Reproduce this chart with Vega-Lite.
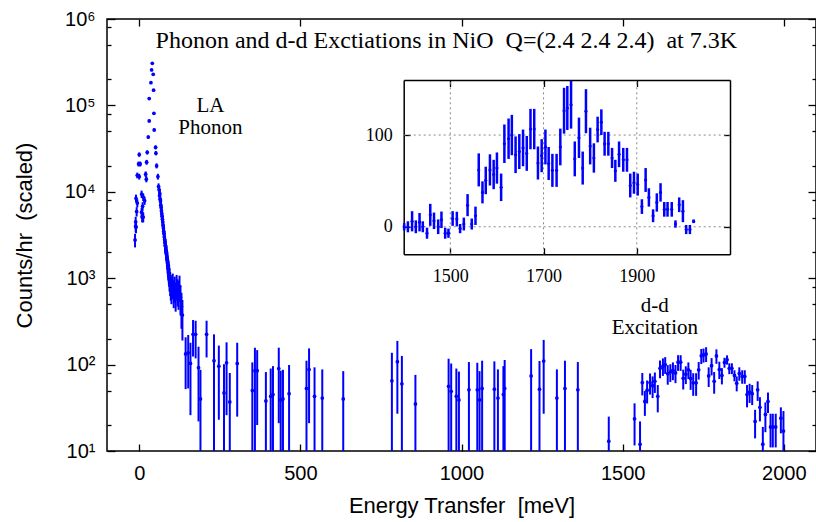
{
  "$schema": "https://vega.github.io/schema/vega-lite/v6.json",
  "width": 709,
  "height": 432,
  "autosize": {"type": "none"},
  "padding": {"left": 107, "top": 19, "right": 0, "bottom": 71},
  "background": "white",
  "config": {
    "view": {"stroke": "black", "strokeWidth": 1.5},
    "axis": {"labelFont": "Liberation Sans", "titleFont": "Liberation Sans", "labelColor": "black", "titleColor": "black", "tickColor": "black", "domainColor": "black", "titleFontWeight": "normal", "grid": false, "tickWidth": 1.3}
  },
  "datasets": {
    "main": [
      {"E": -13, "v": 2770, "lo": 2270, "hi": 3270},
      {"E": -11, "v": 4000, "lo": 3400, "hi": 4600},
      {"E": -11, "v": 4500, "lo": 3870, "hi": 5130},
      {"E": -10, "v": 3900, "lo": 3310, "hi": 4490},
      {"E": -10, "v": 8400, "lo": 7530, "hi": 9270},
      {"E": -8, "v": 5900, "lo": 5170, "hi": 6630},
      {"E": -6, "v": 7400, "lo": 6590, "hi": 8210},
      {"E": -6, "v": 15500, "lo": 14320, "hi": 16680},
      {"E": -2, "v": 21000, "lo": 19630, "hi": 22370},
      {"E": 0, "v": 27000, "lo": 25440, "hi": 28560},
      {"E": 0, "v": 15000, "lo": 13840, "hi": 16160},
      {"E": 3, "v": 21000, "lo": 19630, "hi": 22370},
      {"E": 7.4, "v": 9400, "lo": 8480, "hi": 10320},
      {"E": 7.4, "v": 5800, "lo": 5080, "hi": 6520},
      {"E": 9, "v": 5100, "lo": 4420, "hi": 5780},
      {"E": 10.5, "v": 6800, "lo": 6020, "hi": 7580},
      {"E": 12.4, "v": 8700, "lo": 7820, "hi": 9580},
      {"E": 12.4, "v": 5100, "lo": 4420, "hi": 5780},
      {"E": 16.7, "v": 7900, "lo": 7060, "hi": 8740},
      {"E": 20, "v": 16000, "lo": 14800, "hi": 17200},
      {"E": 22, "v": 14000, "lo": 12880, "hi": 15120},
      {"E": 23, "v": 22000, "lo": 20590, "hi": 23410},
      {"E": 24.8, "v": 28600, "lo": 27000, "hi": 30200},
      {"E": 28, "v": 43000, "lo": 41030, "hi": 44970},
      {"E": 31, "v": 66000, "lo": 63560, "hi": 68440},
      {"E": 31, "v": 120000, "lo": 116700, "hi": 123300},
      {"E": 36.3, "v": 183000, "lo": 178900, "hi": 187100},
      {"E": 38.4, "v": 257000, "lo": 252200, "hi": 261800},
      {"E": 40.6, "v": 307000, "lo": 301700, "hi": 312300},
      {"E": 43.4, "v": 229000, "lo": 224500, "hi": 233500},
      {"E": 44.6, "v": 150000, "lo": 146300, "hi": 153700},
      {"E": 45.6, "v": 81000, "lo": 78300, "hi": 83700},
      {"E": 46.5, "v": 52000, "lo": 49840, "hi": 54160},
      {"E": 50.8, "v": 32700, "lo": 30980, "hi": 34420},
      {"E": 51.8, "v": 28000, "lo": 26410, "hi": 29590},
      {"E": 54, "v": 20000, "lo": 18660, "hi": 21340},
      {"E": 58, "v": 15000, "lo": 13840, "hi": 16160},
      {"E": 60, "v": 11500, "lo": 10480, "hi": 12520},
      {"E": 62, "v": 10500, "lo": 9530, "hi": 11470},
      {"E": 63, "v": 9000, "lo": 8100, "hi": 9900},
      {"E": 64, "v": 9500, "lo": 8580, "hi": 10420},
      {"E": 65, "v": 8200, "lo": 7340, "hi": 9060},
      {"E": 66, "v": 7800, "lo": 6960, "hi": 8640},
      {"E": 67, "v": 7000, "lo": 6210, "hi": 7790},
      {"E": 68, "v": 6600, "lo": 5830, "hi": 7370},
      {"E": 69, "v": 6000, "lo": 5270, "hi": 6730},
      {"E": 70, "v": 5600, "lo": 4890, "hi": 6310},
      {"E": 71, "v": 5200, "lo": 4520, "hi": 5880},
      {"E": 72, "v": 4800, "lo": 4140, "hi": 5460},
      {"E": 73, "v": 4500, "lo": 3860, "hi": 5140},
      {"E": 74, "v": 4100, "lo": 3490, "hi": 4710},
      {"E": 75, "v": 3800, "lo": 3210, "hi": 4390},
      {"E": 76, "v": 3500, "lo": 2940, "hi": 4060},
      {"E": 77, "v": 3300, "lo": 2760, "hi": 3840},
      {"E": 78, "v": 3000, "lo": 2480, "hi": 3520},
      {"E": 79, "v": 2800, "lo": 2300, "hi": 3300},
      {"E": 80, "v": 2600, "lo": 2120, "hi": 3080},
      {"E": 81, "v": 2400, "lo": 1930, "hi": 2870},
      {"E": 82, "v": 2300, "lo": 1840, "hi": 2760},
      {"E": 83, "v": 2100, "lo": 1670, "hi": 2530},
      {"E": 84, "v": 2000, "lo": 1580, "hi": 2420},
      {"E": 85, "v": 1900, "lo": 1490, "hi": 2310},
      {"E": 86, "v": 1750, "lo": 1350, "hi": 2150},
      {"E": 87, "v": 1650, "lo": 1260, "hi": 2040},
      {"E": 88, "v": 1500, "lo": 1130, "hi": 1870},
      {"E": 89, "v": 1400, "lo": 1040, "hi": 1760},
      {"E": 90, "v": 1300, "lo": 960, "hi": 1640},
      {"E": 91, "v": 1250, "lo": 910, "hi": 1590},
      {"E": 92, "v": 1150, "lo": 830, "hi": 1470},
      {"E": 93, "v": 1100, "lo": 790, "hi": 1410},
      {"E": 94, "v": 1000, "lo": 700, "hi": 1300},
      {"E": 96, "v": 900, "lo": 620, "hi": 1180},
      {"E": 98, "v": 820, "lo": 550, "hi": 1090},
      {"E": 100, "v": 760, "lo": 500, "hi": 1020},
      {"E": 104, "v": 850, "lo": 570, "hi": 1130},
      {"E": 107, "v": 700, "lo": 450, "hi": 950},
      {"E": 110, "v": 780, "lo": 520, "hi": 1040},
      {"E": 113, "v": 650, "lo": 410, "hi": 890},
      {"E": 116, "v": 820, "lo": 550, "hi": 1090},
      {"E": 119, "v": 720, "lo": 470, "hi": 970},
      {"E": 122, "v": 680, "lo": 430, "hi": 930},
      {"E": 125, "v": 800, "lo": 530, "hi": 1070},
      {"E": 128, "v": 600, "lo": 370, "hi": 830},
      {"E": 131, "v": 470, "lo": 260, "hi": 680},
      {"E": 134, "v": 375, "lo": 190, "hi": 560},
      {"E": 144, "v": 133, "lo": 52, "hi": 207},
      {"E": 152, "v": 137, "lo": 53, "hi": 220},
      {"E": 159, "v": 103, "lo": 26, "hi": 179},
      {"E": 167, "v": 224, "lo": 124, "hi": 328},
      {"E": 175, "v": 224, "lo": 118, "hi": 322},
      {"E": 184, "v": 92, "lo": 22, "hi": 161},
      {"E": 190, "v": 40, "lo": 3, "hi": 87},
      {"E": 209, "v": 224, "lo": 121, "hi": 322},
      {"E": 232, "v": 111, "lo": 3, "hi": 224},
      {"E": 247, "v": 96, "lo": 23, "hi": 166},
      {"E": 263, "v": 47, "lo": 3, "hi": 101},
      {"E": 271, "v": 105, "lo": 26, "hi": 181},
      {"E": 281, "v": 37, "lo": 3, "hi": 80},
      {"E": 304, "v": 103, "lo": 25, "hi": 179},
      {"E": 351, "v": 50, "lo": 3, "hi": 106},
      {"E": 359, "v": 85, "lo": 3, "hi": 157},
      {"E": 366, "v": 85, "lo": 20, "hi": 147},
      {"E": 393, "v": 38, "lo": 3, "hi": 82},
      {"E": 408, "v": 43, "lo": 3, "hi": 90},
      {"E": 415, "v": 45, "lo": 3, "hi": 96},
      {"E": 433, "v": 90, "lo": 21, "hi": 157},
      {"E": 439, "v": 39, "lo": 3, "hi": 85},
      {"E": 446, "v": 40, "lo": 3, "hi": 87},
      {"E": 465, "v": 46, "lo": 3, "hi": 99},
      {"E": 519, "v": 53, "lo": 3, "hi": 111},
      {"E": 527, "v": 88, "lo": 21, "hi": 154},
      {"E": 544, "v": 43, "lo": 3, "hi": 93},
      {"E": 568, "v": 41, "lo": 3, "hi": 88},
      {"E": 633, "v": 40, "lo": 3, "hi": 84},
      {"E": 784, "v": 65, "lo": 3, "hi": 137},
      {"E": 801, "v": 108, "lo": 27, "hi": 188},
      {"E": 815, "v": 60, "lo": 3, "hi": 126},
      {"E": 857, "v": 35, "lo": 3, "hi": 76},
      {"E": 960, "v": 56, "lo": 3, "hi": 117},
      {"E": 968, "v": 49, "lo": 3, "hi": 103},
      {"E": 984, "v": 43, "lo": 3, "hi": 90},
      {"E": 992, "v": 39, "lo": 3, "hi": 83},
      {"E": 1023, "v": 51, "lo": 3, "hi": 107},
      {"E": 1049, "v": 51, "lo": 3, "hi": 105},
      {"E": 1056, "v": 39, "lo": 3, "hi": 84},
      {"E": 1064, "v": 53, "lo": 3, "hi": 111},
      {"E": 1102, "v": 52, "lo": 3, "hi": 109},
      {"E": 1113, "v": 41, "lo": 3, "hi": 88},
      {"E": 1130, "v": 45, "lo": 3, "hi": 96},
      {"E": 1134, "v": 53, "lo": 3, "hi": 113},
      {"E": 1216, "v": 74, "lo": 3, "hi": 151},
      {"E": 1242, "v": 52, "lo": 3, "hi": 110},
      {"E": 1255, "v": 110, "lo": 27, "hi": 193},
      {"E": 1296, "v": 41, "lo": 3, "hi": 88},
      {"E": 1321, "v": 53, "lo": 3, "hi": 111},
      {"E": 1361, "v": 51, "lo": 3, "hi": 107},
      {"E": 1457, "v": 13, "lo": 1, "hi": 25},
      {"E": 1537, "v": 23.6, "lo": 11.6, "hi": 35.6},
      {"E": 1554, "v": 12, "lo": 2, "hi": 22},
      {"E": 1561, "v": 62, "lo": 44, "hi": 80},
      {"E": 1569, "v": 37.5, "lo": 25.5, "hi": 49.5},
      {"E": 1576, "v": 50.5, "lo": 35.5, "hi": 65.5},
      {"E": 1585, "v": 62, "lo": 45, "hi": 79},
      {"E": 1593, "v": 57, "lo": 41, "hi": 73},
      {"E": 1600, "v": 64, "lo": 47, "hi": 81},
      {"E": 1609, "v": 43, "lo": 28, "hi": 58},
      {"E": 1616, "v": 90.5, "lo": 69.5, "hi": 111.5},
      {"E": 1625, "v": 96, "lo": 74, "hi": 118},
      {"E": 1632, "v": 100, "lo": 78, "hi": 122},
      {"E": 1640, "v": 78.5, "lo": 58.5, "hi": 98.5},
      {"E": 1648, "v": 82, "lo": 63, "hi": 101},
      {"E": 1656, "v": 86, "lo": 66, "hi": 106},
      {"E": 1664, "v": 80, "lo": 61, "hi": 99},
      {"E": 1672, "v": 106.5, "lo": 84.5, "hi": 128.5},
      {"E": 1680, "v": 106.5, "lo": 84.5, "hi": 128.5},
      {"E": 1688, "v": 69.5, "lo": 51.5, "hi": 87.5},
      {"E": 1696, "v": 77.5, "lo": 59.5, "hi": 95.5},
      {"E": 1704, "v": 87, "lo": 68, "hi": 106},
      {"E": 1711, "v": 69, "lo": 51, "hi": 87},
      {"E": 1719, "v": 61.5, "lo": 43.5, "hi": 79.5},
      {"E": 1728, "v": 61.5, "lo": 43.5, "hi": 79.5},
      {"E": 1736, "v": 87, "lo": 67, "hi": 107},
      {"E": 1744, "v": 126.5, "lo": 101.5, "hi": 151.5},
      {"E": 1751, "v": 129.5, "lo": 105.5, "hi": 153.5},
      {"E": 1759, "v": 133, "lo": 107, "hi": 159},
      {"E": 1767, "v": 74, "lo": 55, "hi": 93},
      {"E": 1776, "v": 97, "lo": 75, "hi": 119},
      {"E": 1784, "v": 64, "lo": 46, "hi": 82},
      {"E": 1791, "v": 126, "lo": 102, "hi": 150},
      {"E": 1800, "v": 88, "lo": 68, "hi": 108},
      {"E": 1808, "v": 75, "lo": 59, "hi": 91},
      {"E": 1816, "v": 106, "lo": 92, "hi": 120},
      {"E": 1824, "v": 114, "lo": 100, "hi": 128},
      {"E": 1831, "v": 90.5, "lo": 77.5, "hi": 103.5},
      {"E": 1839, "v": 90.5, "lo": 77.5, "hi": 103.5},
      {"E": 1847, "v": 75, "lo": 64, "hi": 86},
      {"E": 1854, "v": 61, "lo": 49, "hi": 73},
      {"E": 1862, "v": 79, "lo": 65, "hi": 93},
      {"E": 1871, "v": 73, "lo": 60, "hi": 86},
      {"E": 1879, "v": 73, "lo": 60, "hi": 86},
      {"E": 1886, "v": 45, "lo": 32, "hi": 58},
      {"E": 1894, "v": 48, "lo": 36, "hi": 60},
      {"E": 1902, "v": 46, "lo": 34, "hi": 58},
      {"E": 1911, "v": 22, "lo": 14, "hi": 30},
      {"E": 1919, "v": 51, "lo": 38, "hi": 64},
      {"E": 1926, "v": 32, "lo": 22, "hi": 42},
      {"E": 1935, "v": 12, "lo": 5, "hi": 19},
      {"E": 1943, "v": 26.5, "lo": 16.5, "hi": 36.5},
      {"E": 1951, "v": 37.5, "lo": 27.5, "hi": 47.5},
      {"E": 1959, "v": 19, "lo": 11, "hi": 27},
      {"E": 1966, "v": 19, "lo": 11, "hi": 27},
      {"E": 1975, "v": 19, "lo": 11, "hi": 27},
      {"E": 1991, "v": 24, "lo": 16, "hi": 32},
      {"E": 1999, "v": 17, "lo": 5, "hi": 29}
    ],
    "inset": [
      {"E": 1401, "v": 0, "lo": -4, "hi": 4},
      {"E": 1409, "v": 0, "lo": -6, "hi": 6},
      {"E": 1418, "v": 6, "lo": -5, "hi": 17},
      {"E": 1426, "v": 0, "lo": -7, "hi": 7},
      {"E": 1434, "v": 5, "lo": -5, "hi": 15},
      {"E": 1441, "v": 0, "lo": -6, "hi": 6},
      {"E": 1450, "v": -7, "lo": -13, "hi": -1},
      {"E": 1457, "v": 13, "lo": 1, "hi": 25},
      {"E": 1465, "v": 6.5, "lo": -2.5, "hi": 15.5},
      {"E": 1474, "v": 0, "lo": -8, "hi": 8},
      {"E": 1481, "v": 7.6, "lo": -1.4, "hi": 16.6},
      {"E": 1489, "v": -7, "lo": -13, "hi": -1},
      {"E": 1496, "v": -7, "lo": -12, "hi": -2},
      {"E": 1505, "v": 9, "lo": 1, "hi": 17},
      {"E": 1514, "v": 8.4, "lo": 0.4, "hi": 16.4},
      {"E": 1521, "v": -2, "lo": -7, "hi": 3},
      {"E": 1529, "v": 3, "lo": -4, "hi": 10},
      {"E": 1537, "v": 23.6, "lo": 11.6, "hi": 35.6},
      {"E": 1546, "v": 3, "lo": -3, "hi": 9},
      {"E": 1554, "v": 12, "lo": 2, "hi": 22},
      {"E": 1561, "v": 62, "lo": 44, "hi": 80},
      {"E": 1569, "v": 37.5, "lo": 25.5, "hi": 49.5},
      {"E": 1576, "v": 50.5, "lo": 35.5, "hi": 65.5},
      {"E": 1585, "v": 62, "lo": 45, "hi": 79},
      {"E": 1593, "v": 57, "lo": 41, "hi": 73},
      {"E": 1600, "v": 64, "lo": 47, "hi": 81},
      {"E": 1609, "v": 43, "lo": 28, "hi": 58},
      {"E": 1616, "v": 90.5, "lo": 69.5, "hi": 111.5},
      {"E": 1625, "v": 96, "lo": 74, "hi": 118},
      {"E": 1632, "v": 100, "lo": 78, "hi": 122},
      {"E": 1640, "v": 78.5, "lo": 58.5, "hi": 98.5},
      {"E": 1648, "v": 82, "lo": 63, "hi": 101},
      {"E": 1656, "v": 86, "lo": 66, "hi": 106},
      {"E": 1664, "v": 80, "lo": 61, "hi": 99},
      {"E": 1672, "v": 106.5, "lo": 84.5, "hi": 128.5},
      {"E": 1680, "v": 106.5, "lo": 84.5, "hi": 128.5},
      {"E": 1688, "v": 69.5, "lo": 51.5, "hi": 87.5},
      {"E": 1696, "v": 77.5, "lo": 59.5, "hi": 95.5},
      {"E": 1704, "v": 87, "lo": 68, "hi": 106},
      {"E": 1711, "v": 69, "lo": 51, "hi": 87},
      {"E": 1719, "v": 61.5, "lo": 43.5, "hi": 79.5},
      {"E": 1728, "v": 61.5, "lo": 43.5, "hi": 79.5},
      {"E": 1736, "v": 87, "lo": 67, "hi": 107},
      {"E": 1744, "v": 126.5, "lo": 101.5, "hi": 151.5},
      {"E": 1751, "v": 129.5, "lo": 105.5, "hi": 153.5},
      {"E": 1759, "v": 133, "lo": 107, "hi": 159},
      {"E": 1767, "v": 74, "lo": 55, "hi": 93},
      {"E": 1776, "v": 97, "lo": 75, "hi": 119},
      {"E": 1784, "v": 64, "lo": 46, "hi": 82},
      {"E": 1791, "v": 126, "lo": 102, "hi": 150},
      {"E": 1800, "v": 88, "lo": 68, "hi": 108},
      {"E": 1808, "v": 75, "lo": 59, "hi": 91},
      {"E": 1816, "v": 106, "lo": 92, "hi": 120},
      {"E": 1824, "v": 114, "lo": 100, "hi": 128},
      {"E": 1831, "v": 90.5, "lo": 77.5, "hi": 103.5},
      {"E": 1839, "v": 90.5, "lo": 77.5, "hi": 103.5},
      {"E": 1847, "v": 75, "lo": 64, "hi": 86},
      {"E": 1854, "v": 61, "lo": 49, "hi": 73},
      {"E": 1862, "v": 79, "lo": 65, "hi": 93},
      {"E": 1871, "v": 73, "lo": 60, "hi": 86},
      {"E": 1879, "v": 73, "lo": 60, "hi": 86},
      {"E": 1886, "v": 45, "lo": 32, "hi": 58},
      {"E": 1894, "v": 48, "lo": 36, "hi": 60},
      {"E": 1902, "v": 46, "lo": 34, "hi": 58},
      {"E": 1911, "v": 22, "lo": 14, "hi": 30},
      {"E": 1919, "v": 51, "lo": 38, "hi": 64},
      {"E": 1926, "v": 32, "lo": 22, "hi": 42},
      {"E": 1935, "v": 12, "lo": 5, "hi": 19},
      {"E": 1943, "v": 26.5, "lo": 16.5, "hi": 36.5},
      {"E": 1951, "v": 37.5, "lo": 27.5, "hi": 47.5},
      {"E": 1959, "v": 19, "lo": 11, "hi": 27},
      {"E": 1966, "v": 19, "lo": 11, "hi": 27},
      {"E": 1975, "v": 19, "lo": 11, "hi": 27},
      {"E": 1983, "v": 3, "lo": -1, "hi": 7},
      {"E": 1991, "v": 24, "lo": 16, "hi": 32},
      {"E": 1999, "v": 17, "lo": 5, "hi": 29},
      {"E": 2006, "v": -3, "lo": -8, "hi": 2},
      {"E": 2014, "v": -3, "lo": -8, "hi": 2},
      {"E": 2022, "v": 6, "lo": 4, "hi": 8}
    ],
    "title": [
      {"E": 953, "y": 466000, "label": "Phonon and d-d Exctiations in NiO\u00a0\u00a0Q=(2.4 2.4 2.4)\u00a0\u00a0at 7.3K"}
    ],
    "notes": [
      {"E": 221, "y": 83000, "label": "LA\nPhonon"},
      {"E": 1600, "y": 409, "label": "d-d\nExcitation"}
    ],
    "gridx": [{"g": 1500}, {"g": 1700}, {"g": 1900}],
    "gridy": [{"g": 0}, {"g": 100}]
  },
  "layer": [
    {
      "layer": [
        {
          "data": {"name": "main"},
          "mark": {"type": "rule", "color": "#0000ff", "strokeWidth": 2, "clip": true},
          "encoding": {
            "x": {"field": "E", "type": "quantitative", "scale": {"domain": [-100, 2100], "nice": false, "zero": false},
              "axis": {"orient": "bottom", "values": [0, 500, 1000, 1500, 2000], "format": "d", "labelFontSize": 20, "tickSize": -7, "labelPadding": 19, "domain": false, "title": "Energy Transfer\u00a0\u00a0[meV]", "titleFontSize": 22, "titlePadding": 12}},
            "y": {"field": "lo", "type": "quantitative", "scale": {"type": "log", "domain": [10, 1000000], "nice": false},
              "axis": {"orient": "left", "values": [10, 100, 1000, 10000, 100000, 1000000], "labelExpr": "'10' + ['','¹','²','³','⁴','⁵','⁶'][round(log(datum.value)/LN10)]", "labelFontSize": 20, "tickSize": -8, "labelPadding": 20, "domain": false, "title": "Counts/hr\u00a0\u00a0(scaled)", "titleFontSize": 22, "titlePadding": 28}},
            "y2": {"field": "hi"}
          }
        },
        {
          "data": {"name": "main"},
          "mark": {"type": "circle", "color": "#0000ff", "size": 14, "opacity": 1, "clip": true},
          "encoding": {
            "x": {"field": "E", "type": "quantitative", "axis": {"orient": "top", "values": [0, 500, 1000, 1500, 2000], "labels": false, "tickSize": -7, "domain": false, "title": null}},
            "y": {"field": "v", "type": "quantitative", "axis": {"orient": "right", "values": [10, 100, 1000, 10000, 100000, 1000000], "labels": false, "tickSize": -8, "domain": false, "title": null}}
          }
        },
        {
          "data": {"name": "title"},
          "mark": {"type": "text", "font": "Liberation Serif", "fontSize": 24, "align": "center", "baseline": "alphabetic", "color": "black"},
          "encoding": {
            "x": {"field": "E", "type": "quantitative", "axis": null},
            "y": {"field": "y", "type": "quantitative", "axis": {"orient": "left", "values": [20, 50, 80, 200, 500, 800, 2000, 5000, 8000, 20000, 50000, 80000, 200000, 500000, 800000], "labels": false, "tickSize": -4, "domain": false, "title": null}},
            "text": {"field": "label"}
          }
        },
        {
          "data": {"name": "notes"},
          "mark": {"type": "text", "font": "Liberation Serif", "fontSize": 21, "align": "center", "baseline": "alphabetic", "lineBreak": "\n", "lineHeight": 22, "color": "black"},
          "encoding": {
            "x": {"field": "E", "type": "quantitative", "axis": null},
            "y": {"field": "y", "type": "quantitative", "axis": {"orient": "right", "values": [20, 50, 80, 200, 500, 800, 2000, 5000, 8000, 20000, 50000, 80000, 200000, 500000, 800000], "labels": false, "tickSize": -4, "domain": false, "title": null}},
            "text": {"field": "label"}
          }
        }
      ],
      "resolve": {"axis": {"x": "independent", "y": "independent"}}
    },
    {
      "layer": [
        {
          "data": {"name": "gridx"},
          "mark": {"type": "rule", "color": "#888888", "strokeWidth": 1, "strokeDash": [2, 3]},
          "encoding": {
            "x": {"field": "g", "type": "quantitative", "scale": {"domain": [1400, 2100], "range": [296.7, 623], "nice": false, "zero": false}, "axis": null},
            "y": {"datum": -30, "type": "quantitative", "scale": {"domain": [-30, 160], "range": [235.3, 61], "nice": false, "zero": false}, "axis": null},
            "y2": {"datum": 160}
          }
        },
        {
          "data": {"name": "gridy"},
          "mark": {"type": "rule", "color": "#888888", "strokeWidth": 1, "strokeDash": [2, 3]},
          "encoding": {
            "x": {"datum": 1400, "type": "quantitative", "axis": null},
            "x2": {"datum": 2100},
            "y": {"field": "g", "type": "quantitative", "axis": null}
          }
        },
        {
          "data": {"name": "inset"},
          "mark": {"type": "rule", "color": "#0000ff", "strokeWidth": 2.5},
          "encoding": {
            "x": {"field": "E", "type": "quantitative",
              "axis": {"orient": "bottom", "offset": -196.7, "values": [1500, 1700, 1900], "format": "d", "labelFont": "Liberation Serif", "labelFontSize": 18, "tickSize": -6.5, "labelPadding": 20, "domain": true, "domainWidth": 1.5, "title": null}},
            "y": {"field": "lo", "type": "quantitative",
              "axis": {"orient": "left", "offset": -296.7, "values": [0, 100], "format": "d", "labelFont": "Liberation Serif", "labelFontSize": 18, "tickSize": -6.5, "labelPadding": 18, "domain": true, "domainWidth": 1.5, "title": null}},
            "y2": {"field": "hi"}
          }
        },
        {
          "data": {"name": "inset"},
          "mark": {"type": "circle", "color": "#0000ff", "size": 10, "opacity": 1},
          "encoding": {
            "x": {"field": "E", "type": "quantitative",
              "axis": {"orient": "top", "offset": -61, "values": [1500, 1700, 1900], "labels": false, "tickSize": -6.5, "domain": true, "domainWidth": 1.5, "title": null}},
            "y": {"field": "v", "type": "quantitative",
              "axis": {"orient": "right", "offset": -86, "values": [0, 100], "labels": false, "tickSize": -6.5, "domain": true, "domainWidth": 1.5, "title": null}}
          }
        }
      ],
      "resolve": {"axis": {"x": "independent", "y": "independent"}}
    }
  ],
  "resolve": {"scale": {"x": "independent", "y": "independent"}}
}
